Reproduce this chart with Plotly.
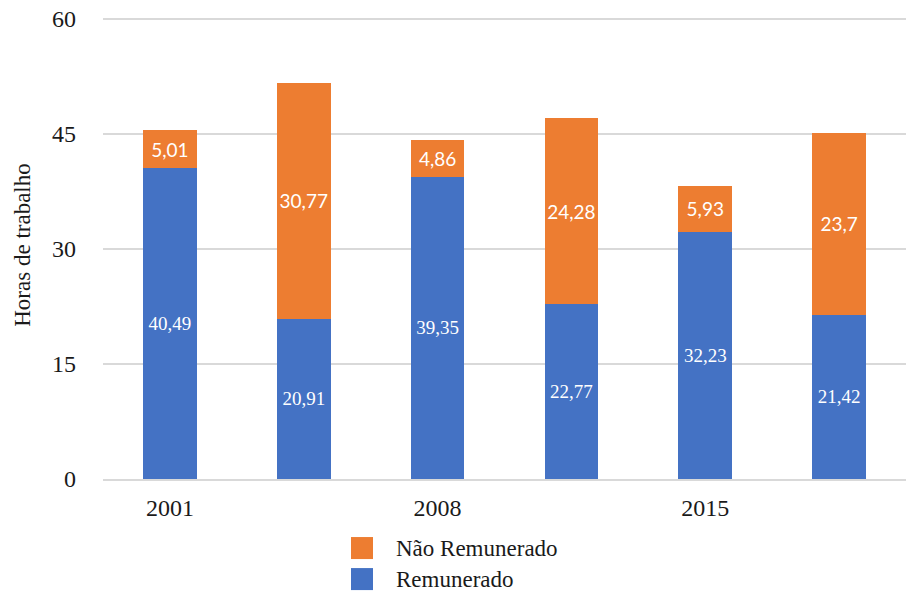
import plotly.graph_objects as go

years = ["2001", "2008", "2015"]
positions = [0, 1, 2, 3, 4, 5]
remunerado = [40.49, 20.91, 39.35, 22.77, 32.23, 21.42]
nao_remunerado = [5.01, 30.77, 4.86, 24.28, 5.93, 23.7]
series_names = ["Não Remunerado", "Remunerado"]

BLUE = "#4472c4"
ORANGE = "#ed7d31"
SERIF = "Liberation Serif"

# figure size and plot area in pixels
FW, FH = 906, 591
YMAX = 61  # a little headroom so the 60 gridline is not clipped
PX = 460 / 60
L, W = 103, 803
H = YMAX * PX
T = 19 - (YMAX - 60) * PX


def fmt(v):
    return f"{v:g}".replace(".", ",")


fig = go.Figure()
fig.add_trace(go.Bar(
    x=positions, y=remunerado, name=series_names[1], showlegend=False,
    marker=dict(color=BLUE, line=dict(width=0)),
    text=[fmt(v) for v in remunerado],
    textposition="inside", insidetextanchor="middle",
    textfont=dict(color="white", size=23, family=SERIF),
    constraintext="none", textangle=0,
))
fig.add_trace(go.Bar(
    x=positions, y=nao_remunerado, name=series_names[0], showlegend=False,
    marker=dict(color=ORANGE, line=dict(width=0)),
    text=[fmt(v) for v in nao_remunerado],
    textposition="inside", insidetextanchor="middle",
    textfont=dict(color="white", size=19, family="Lato"),
    constraintext="none", textangle=0,
))

# legend drawn by hand so the swatches match the 22px squares
for i, (name, col) in enumerate(zip(series_names, [ORANGE, BLUE])):
    cy = 548 + 31 * i
    fig.add_shape(
        type="rect", xref="paper", yref="paper",
        x0=(351 - L) / W, x1=(373 - L) / W,
        y0=(T + H - (cy + 11)) / H, y1=(T + H - (cy - 11)) / H,
        fillcolor=col, line=dict(width=0),
    )
    fig.add_annotation(
        xref="paper", yref="paper", x=(394 - L) / W, y=(T + H - cy) / H,
        text=name, showarrow=False, xanchor="left", yanchor="middle",
        font=dict(family=SERIF, size=23, color="#1a1a1a"),
    )

fig.update_layout(
    barmode="stack",
    bargap=0.6,
    width=FW, height=FH,
    margin=dict(l=L, r=FW - L - W, t=T, b=FH - T - H),
    plot_bgcolor="white",
    paper_bgcolor="white",
    font=dict(family=SERIF, size=24, color="#1a1a1a"),
    uniformtext=dict(minsize=19, mode="show"),
    showlegend=False,
    xaxis=dict(
        range=[-0.5, 5.5], automargin=False,
        tickvals=positions[::2], ticktext=years,
        showgrid=False, showline=True, linecolor="#d9d9d9", linewidth=1.5,
        ticks="", ticklabelstandoff=6, tickfont=dict(family=SERIF, size=24),
    ),
    yaxis=dict(
        range=[0, YMAX], automargin=False, tickvals=[0, 15, 30, 45, 60],
        gridcolor="#d9d9d9", gridwidth=1.5, zeroline=False,
        ticks="", ticklabelstandoff=26,
        tickfont=dict(family=SERIF, size=24),
        title=dict(text="Horas de trabalho", font=dict(family=SERIF, size=23), standoff=14),
    ),
)

# drop the default page margin so the figure sits at the window's corner
fig.write_html(
    "out.html",
    config={"displayModeBar": False},
    post_script="document.body.style.margin = '0';",
)
